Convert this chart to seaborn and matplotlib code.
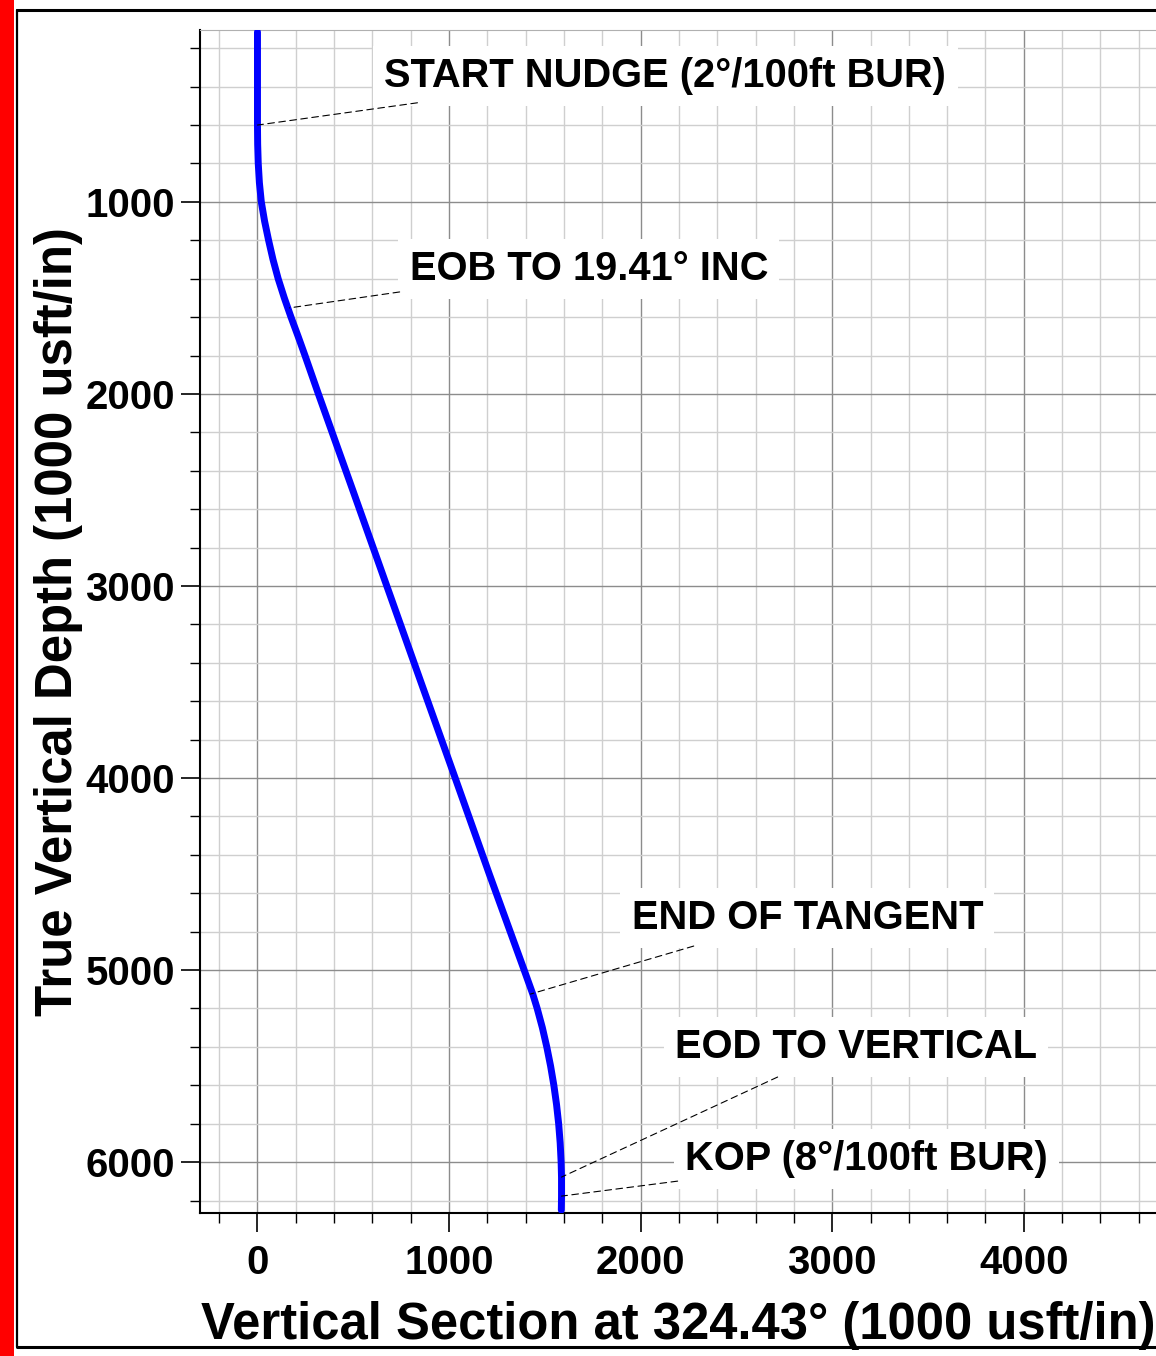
import matplotlib
matplotlib.use("Agg")
import matplotlib.pyplot as plt
import seaborn as sns
import pandas as pd
from matplotlib.lines import Line2D
from matplotlib.patches import Rectangle
from matplotlib.ticker import MultipleLocator

# well path
tvd = [115, 300, 600, 700, 800, 900, 1000, 1100, 1200, 1300, 1400, 1500,
       1600, 1700, 1800, 2000, 2500, 3000, 3500, 4000, 4500, 5000, 5125,
       5200, 5300, 5400, 5500, 5600, 5700, 5800, 5900, 6000, 6080, 6180, 6250]
vsec = [0, 0, 0, 1, 4, 10, 20, 37, 58, 81, 108, 140,
        175, 212, 248, 318, 497, 675, 853, 1032, 1210, 1392, 1437,
        1460, 1487, 1510, 1530, 1547, 1561, 1572, 1580, 1585, 1587, 1587, 1586]

# annotations: label, point on curve (vs, tvd), leader end, text anchor
labels = ["START NUDGE (2°/100ft BUR)", "EOB TO 19.41° INC", "END OF TANGENT",
          "EOD TO VERTICAL", "KOP (8°/100ft BUR)"]
pt_vs = [0, 167, 1425, 1587, 1587]
pt_tvd = [600, 1552, 5125, 6078, 6177]
end_vs = [835, 742, 2277, 2715, 2193]
end_tvd = [484, 1469, 4875, 5557, 6099]
txt_vs = [663, 794, 1953, 2178, 2230]
txt_tvd = [344, 1349, 4730, 5401, 5985]

df = pd.DataFrame({"vs": vsec, "tvd": tvd})

sns.set_style("white")
plt.rcParams["font.family"] = ["Liberation Sans", "DejaVu Sans"]
plt.rcParams["font.weight"] = "bold"
plt.rcParams["text.color"] = "black"
plt.rcParams["axes.labelcolor"] = "black"
plt.rcParams["xtick.color"] = "black"
plt.rcParams["ytick.color"] = "black"

fig = plt.figure(figsize=(11.56, 13.56), dpi=100)
ax = fig.add_axes([200/1156, 1-1213/1356, 1-200/1156, (1213-30)/1356])

sns.lineplot(data=df, x="vs", y="tvd", sort=False, estimator=None,
             color="#0000ff", lw=5, ax=ax, solid_capstyle="round", zorder=5)

ax.set_xlim(-300, 4690)
ax.set_ylim(6265, 105)
ax.xaxis.set_major_locator(MultipleLocator(1000))
ax.xaxis.set_minor_locator(MultipleLocator(200))
ax.yaxis.set_major_locator(MultipleLocator(1000))
ax.yaxis.set_minor_locator(MultipleLocator(200))
ax.grid(which="major", color="#8c8c8c", lw=1.0)
ax.grid(which="minor", color="#cfcfcf", lw=1.0)
ax.set_axisbelow(True)
ax.tick_params(which="major", length=14, width=1.2, direction="out",
               labelsize=29, bottom=True, left=True)
ax.tick_params(axis="x", which="major", pad=8)
ax.tick_params(axis="y", which="major", pad=4)
ax.tick_params(which="minor", length=7, width=1.0, direction="out",
               bottom=True, left=True)
for lab in ax.get_xticklabels() + ax.get_yticklabels():
    lab.set_fontweight("bold")

for s in ["left", "bottom"]:
    ax.spines[s].set_color("black")
    ax.spines[s].set_linewidth(1.5)
ax.spines["top"].set_color("#b0b0b0")
ax.spines["right"].set_visible(False)

ax.set_xlabel("Vertical Section at 324.43° (1000 usft/in)", fontsize=36.5,
              fontweight="bold", labelpad=14)
ax.set_ylabel("True Vertical Depth (1000 usft/in)", fontsize=36.6,
              fontweight="bold", labelpad=2)

for i in range(len(labels)):
    ax.annotate("", xy=(pt_vs[i], pt_tvd[i]), xytext=(end_vs[i], end_tvd[i]),
                arrowprops=dict(arrowstyle="-", ls=(0, (6, 4)), lw=0.8,
                                color="black", shrinkA=0, shrinkB=0), zorder=6)
    ax.text(txt_vs[i], txt_tvd[i], labels[i], fontsize=28.7, fontweight="bold",
            ha="left", va="center", zorder=4,
            bbox=dict(facecolor="white", edgecolor="none", pad=8))

# page frame
fig.add_artist(Rectangle((0, 0), 14/1156, 1, transform=fig.transFigure,
                         color="red", lw=0))
fig.add_artist(Line2D([17/1156, 1], [1-10/1356, 1-10/1356],
                      transform=fig.transFigure, color="black", lw=2.2))
fig.add_artist(Line2D([17/1156, 17/1156], [1-10/1356, 1-1347/1356],
                      transform=fig.transFigure, color="black", lw=1.6))
fig.add_artist(Line2D([17/1156, 1], [1-1347/1356, 1-1347/1356],
                      transform=fig.transFigure, color="black", lw=2.2))

fig.savefig("out.png", dpi=100)
